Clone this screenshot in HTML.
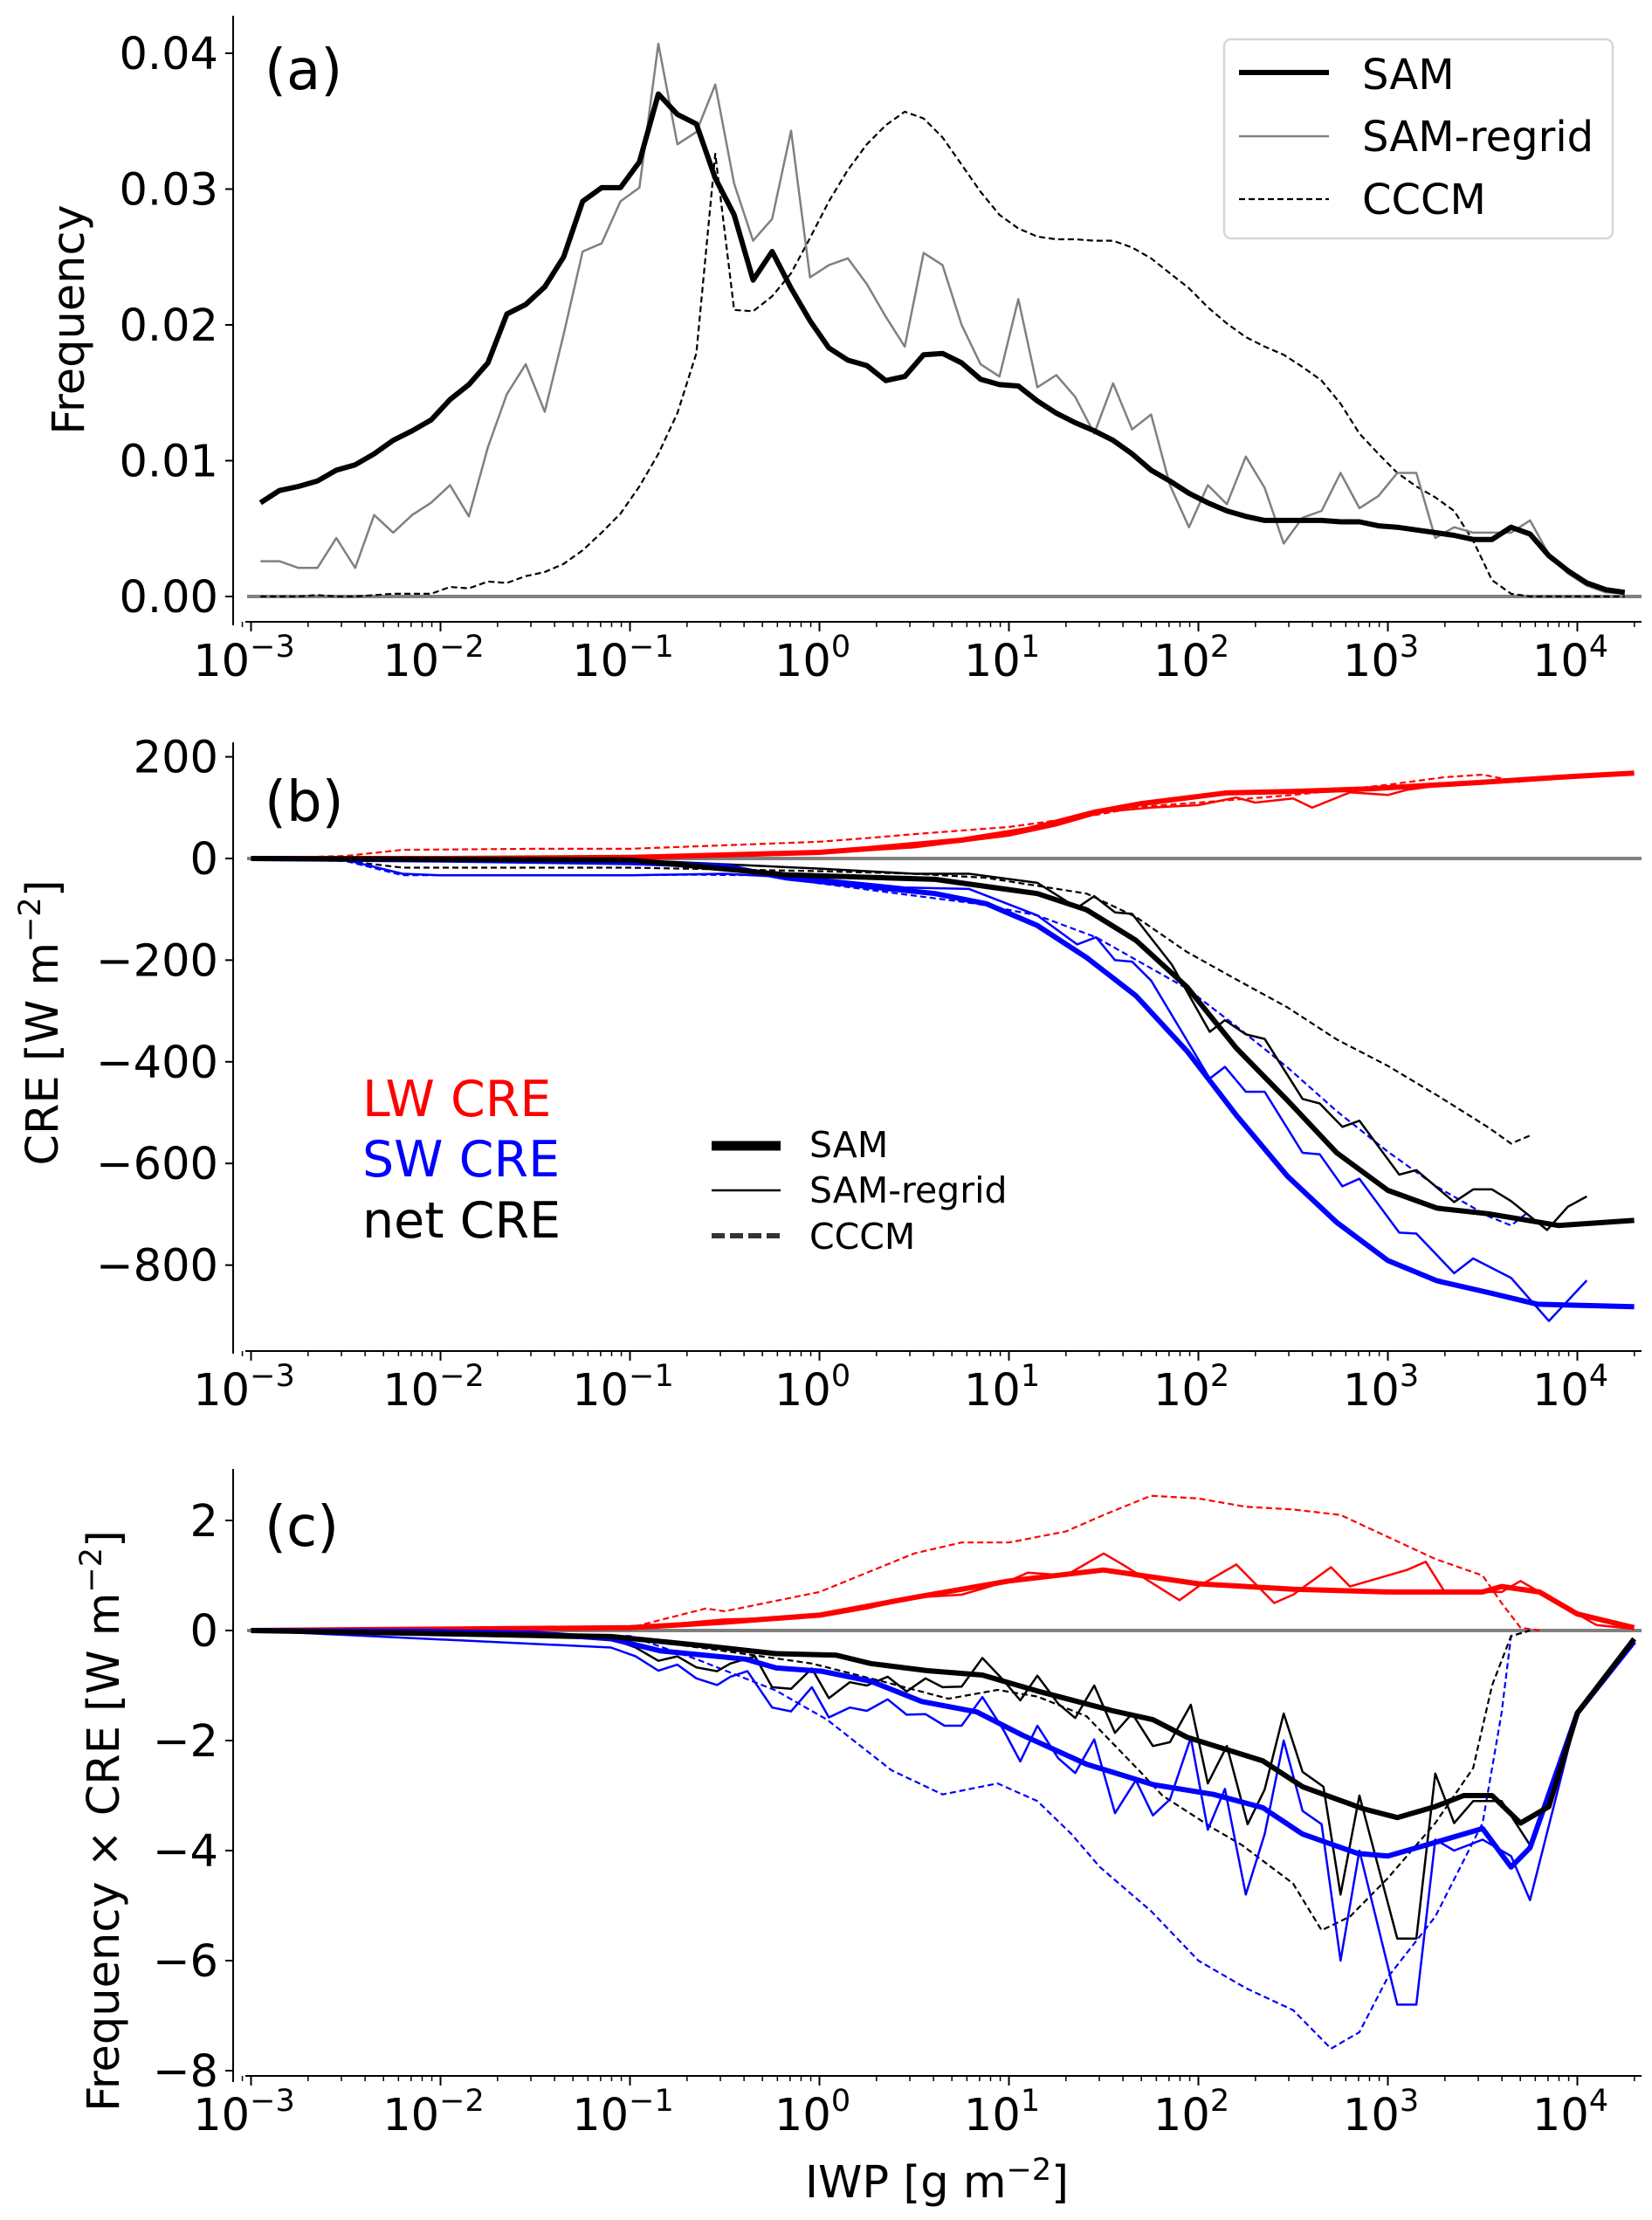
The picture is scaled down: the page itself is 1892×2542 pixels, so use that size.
<!DOCTYPE html>
<html><head><meta charset="utf-8"><style>
html,body{margin:0;padding:0;background:#fff;}
svg{display:block;font-family:"DejaVu Sans","Liberation Sans",sans-serif;}
</style></head>
<body>
<svg id="fig" width="1892" height="2542" viewBox="0 0 1892 2542" xmlns="http://www.w3.org/2000/svg">
<rect width="1892" height="2542" fill="#fff"/>
<g id="pa"></g>
<g id="pb"></g>
<g id="pc"></g>
</svg>
<script>
// ---------- data ----------
const binLog = [-2.95,-2.85,-2.75,-2.65,-2.55,-2.45,-2.35,-2.25,-2.15,-2.05,-1.95,-1.85,-1.75,-1.65,-1.55,-1.45,-1.35,-1.25,-1.15,-1.05,-0.95,-0.85,-0.75,-0.65,-0.55,-0.45,-0.35,-0.25,-0.15,-0.05,0.05,0.15,0.25,0.35,0.45,0.55,0.65,0.75,0.85,0.95,1.05,1.15,1.25,1.35,1.45,1.55,1.65,1.75,1.85,1.95,2.05,2.15,2.25,2.35,2.45,2.55,2.65,2.75,2.85,2.95,3.05,3.15,3.25,3.35,3.45,3.55,3.65,3.75,3.85,3.95,4.05,4.15,4.25];
const freqSAM = [0.0069,0.0078,0.0081,0.0085,0.0093,0.0097,0.0105,0.0115,0.0122,0.0130,0.0145,0.0156,0.0172,0.0208,0.0215,0.0228,0.0250,0.0291,0.0301,0.0301,0.0320,0.0370,0.0355,0.0348,0.0308,0.0281,0.0233,0.0254,0.0227,0.0203,0.0183,0.0174,0.0170,0.0159,0.0162,0.0178,0.0179,0.0172,0.0160,0.0156,0.0155,0.0144,0.0135,0.0128,0.0122,0.0115,0.0105,0.0093,0.0085,0.0076,0.0069,0.0063,0.0059,0.0056,0.0056,0.0056,0.0056,0.0055,0.0055,0.0052,0.0051,0.0049,0.0047,0.0045,0.0042,0.0042,0.0051,0.0046,0.0030,0.0019,0.0010,0.0005,0.0003];
const freqRegrid = [0.0026,0.0026,0.0021,0.0021,0.0043,0.0021,0.0060,0.0047,0.0060,0.0069,0.0082,0.0059,0.0110,0.0149,0.0171,0.0136,0.0193,0.0254,0.0260,0.0291,0.0301,0.0407,0.0333,0.0342,0.0377,0.0304,0.0262,0.0278,0.0343,0.0235,0.0244,0.0249,0.0230,0.0206,0.0184,0.0253,0.0244,0.0200,0.0171,0.0162,0.0219,0.0154,0.0163,0.0147,0.0120,0.0157,0.0123,0.0134,0.0082,0.0051,0.0082,0.0068,0.0103,0.0080,0.0039,0.0058,0.0063,0.0091,0.0065,0.0074,0.0091,0.0091,0.0043,0.0051,0.0047,0.0047,0.0047,0.0056,0.0031,0.0017,0.0008,0.0003,0.0002];
const freqCCCM = [0,0,0,0.0001,0,0,0.0001,0.0002,0.0002,0.0002,0.0007,0.0006,0.0011,0.0010,0.0015,0.0018,0.0024,0.0034,0.0047,0.0061,0.0081,0.0105,0.0135,0.0179,0.0326,0.0211,0.0210,0.0221,0.0238,0.0264,0.0291,0.0314,0.0333,0.0347,0.0357,0.0352,0.0338,0.0318,0.0298,0.0281,0.0271,0.0265,0.0263,0.0263,0.0262,0.0262,0.0257,0.0249,0.0238,0.0227,0.0213,0.0201,0.0191,0.0184,0.0178,0.0169,0.0159,0.0142,0.0120,0.0105,0.0091,0.0081,0.0073,0.0063,0.0041,0.0012,0.0002,0,0,0,0,0,0];

// panel b: CRE [W m-2]
const lwSamX = [-3,-2,-1,-0.7,0,0.25,0.75,1.1,1.45,1.7,2.15,2.5,2.9,3.5,4,4.3];
const lwSamY = [0,0,2,5,12,19,36,57,91,108,129,132,137,150,162,168];
const lwRegX = [-3,-2,-1,0,0.5,1,1.25,1.5,1.75,2,2.2,2.3,2.5,2.6,2.8,3,3.1,3.3,3.5,3.7,3.9,4.1];
const lwRegY = [0,0,2,10,22,45,65,92,100,105,120,110,118,100,130,125,135,145,150,155,160,165];
const lwCcX = [-3,-2.5,-2.2,-1.5,-1,-0.5,0,0.25,0.5,1,1.45,1.7,2,2.5,3,3.3,3.5,3.7];
const lwCcY = [0,5,17,19,19,26,33,40,48,62,85,102,110,125,145,160,165,150];
const swSamX = [-3,-2,-1,-0.5,-0.18,0.61,0.88,1.15,1.41,1.67,1.94,2.2,2.47,2.73,3.0,3.26,3.53,3.79,4.3];
const swSamY = [0,-3,-8,-15,-38,-69,-89,-132,-195,-270,-379,-505,-625,-716,-791,-831,-854,-877,-882];
const swRegX = [-3,-2.5,-2.2,-2,-1,-0.5,0,0.45,0.79,1.15,1.36,1.46,1.56,1.65,1.75,1.94,2.06,2.14,2.25,2.35,2.55,2.64,2.76,2.85,3.06,3.15,3.35,3.45,3.65,3.85,4.05];
const swRegY = [0,-3,-30,-33,-33,-30,-40,-57,-60,-112,-169,-155,-200,-203,-240,-358,-433,-410,-459,-459,-579,-582,-645,-630,-736,-738,-816,-787,-825,-910,-830];
const swCcX = [-3,-2.5,-2.2,-1,-0.7,-0.3,0,0.83,1.15,1.46,1.94,2.2,2.47,2.73,3.0,3.26,3.53,3.65,3.74];
const swCcY = [0,-5,-33,-33,-32,-33,-49,-89,-112,-155,-256,-330,-411,-497,-577,-646,-704,-722,-696];
const netSamX = [-3,-1,-0.18,0.61,1.15,1.41,1.67,1.94,2.2,2.47,2.73,3.0,3.26,3.53,3.9,4.3];
const netSamY = [0,-3,-32,-41,-69,-101,-161,-253,-373,-476,-579,-653,-688,-699,-722,-712];
const netRegX = [-3,-1,0,0.5,0.79,1.15,1.36,1.45,1.56,1.65,1.86,2.06,2.14,2.25,2.35,2.55,2.64,2.76,2.85,3.06,3.15,3.35,3.45,3.55,3.65,3.84,3.95,4.05];
const netRegY = [0,-3,-20,-30,-30,-48,-97,-74,-106,-109,-209,-341,-318,-346,-355,-473,-482,-528,-516,-622,-613,-676,-651,-651,-674,-731,-685,-665];
const netCcX = [-3,-2.5,-2.2,-1,0,0.5,0.88,1.41,1.67,1.94,2.2,2.47,2.73,3.0,3.26,3.53,3.65,3.75];
const netCcY = [0,-5,-18,-18,-25,-30,-38,-69,-115,-184,-238,-293,-356,-408,-466,-529,-561,-545];

// panel c: Frequency x CRE
const cLwSamX = [-3,-1,-0.5,0,0.5,1,1.5,2,2.5,3,3.5,3.6,3.8,4,4.3];
const cLwSamY = [0,0.05,0.15,0.28,0.6,0.9,1.1,0.85,0.75,0.7,0.7,0.8,0.7,0.3,0.05];
const cLwRegX = [-3,-1,-0.5,0,0.25,0.5,0.75,1,1.1,1.3,1.5,1.6,1.9,2,2.2,2.4,2.5,2.7,2.8,3.1,3.2,3.3,3.6,3.7,3.9,4.1,4.3];
const cLwRegY = [0,0.05,0.2,0.25,0.4,0.6,0.65,0.9,1.05,1.0,1.4,1.2,0.55,0.8,1.2,0.5,0.65,1.15,0.8,1.1,1.25,0.7,0.7,0.9,0.5,0.1,0.03];
const cLwCcX = [-3,-1,-0.6,-0.5,0,0.5,0.75,1,1.3,1.5,1.75,2,2.25,2.5,2.75,3,3.25,3.5,3.6,3.7,3.8];
const cLwCcY = [0,0.05,0.4,0.35,0.7,1.4,1.6,1.6,1.8,2.1,2.45,2.4,2.25,2.2,2.1,1.7,1.3,1.0,0.5,0.05,0];
const cSwSamX = [-3,-2,-1.5,-1.1,-0.84,-0.39,-0.23,0.01,0.27,0.54,0.83,1.07,1.41,1.76,2.08,2.34,2.55,2.84,3.0,3.25,3.5,3.65,3.75,4,4.3];
const cSwSamY = [0,-0.02,-0.05,-0.15,-0.37,-0.52,-0.68,-0.74,-0.92,-1.29,-1.48,-1.9,-2.43,-2.8,-2.98,-3.22,-3.7,-4.05,-4.1,-3.85,-3.6,-4.3,-3.95,-1.5,-0.2];
const cSwRegX = [-3,-1.1,-0.97,-0.85,-0.75,-0.65,-0.54,-0.47,-0.38,-0.25,-0.15,-0.04,0.05,0.16,0.25,0.36,0.46,0.56,0.66,0.75,0.86,0.97,1.06,1.15,1.26,1.35,1.45,1.56,1.67,1.76,1.85,1.96,2.05,2.14,2.25,2.35,2.45,2.55,2.65,2.75,2.85,3.05,3.15,3.25,3.35,3.5,3.65,3.75,4,4.3];
const cSwRegY = [0,-0.31,-0.47,-0.73,-0.62,-0.87,-0.99,-0.84,-0.74,-1.4,-1.47,-1.03,-1.58,-1.4,-1.46,-1.25,-1.53,-1.52,-1.73,-1.73,-1.21,-1.8,-2.38,-1.73,-2.32,-2.59,-1.98,-3.32,-2.72,-3.36,-3.07,-1.95,-3.62,-2.88,-4.8,-3.7,-2.0,-3.28,-3.52,-6.0,-4.0,-6.8,-6.8,-3.8,-4.0,-3.8,-4.1,-4.9,-1.5,-0.2];
const cSwCcX = [-3,-1,-0.65,-0.23,0.04,0.38,0.65,0.94,1.15,1.33,1.48,1.75,2,2.25,2.5,2.7,2.85,3,3.25,3.5,3.6,3.65,3.75];
const cSwCcY = [0,-0.1,-0.52,-1.09,-1.62,-2.54,-2.98,-2.78,-3.1,-3.7,-4.3,-5.1,-6.0,-6.5,-6.9,-7.6,-7.3,-6.3,-5.2,-3.5,-1.5,-0.1,0];
const cNetSamX = [-3,-1.1,-0.57,-0.23,0.09,0.27,0.57,0.86,1.15,1.55,1.76,1.94,2.34,2.55,2.87,3.05,3.25,3.4,3.55,3.7,3.85,4,4.3];
const cNetSamY = [0,-0.11,-0.29,-0.42,-0.45,-0.6,-0.73,-0.81,-1.1,-1.46,-1.62,-1.94,-2.37,-2.84,-3.24,-3.4,-3.2,-3.0,-3.0,-3.5,-3.2,-1.5,-0.15];
const cNetRegX = [-3,-1.1,-0.97,-0.85,-0.75,-0.65,-0.54,-0.47,-0.34,-0.25,-0.15,-0.04,0.05,0.16,0.25,0.36,0.46,0.56,0.65,0.75,0.86,0.97,1.06,1.15,1.26,1.35,1.45,1.56,1.65,1.76,1.85,1.96,2.05,2.15,2.26,2.35,2.45,2.55,2.66,2.75,2.85,3.05,3.15,3.25,3.35,3.45,3.6,3.75,4,4.3];
const cNetRegY = [0,-0.15,-0.31,-0.55,-0.47,-0.67,-0.74,-0.6,-0.47,-1.03,-1.06,-0.69,-1.23,-0.94,-1.0,-0.84,-1.11,-0.87,-1.03,-1.02,-0.5,-0.9,-1.27,-0.82,-1.33,-1.59,-1.0,-1.86,-1.51,-2.1,-2.03,-1.35,-2.78,-2.1,-3.52,-2.89,-1.51,-2.57,-2.84,-4.8,-3.0,-5.6,-5.6,-2.6,-3.5,-3.1,-3.1,-3.9,-1.5,-0.2];
const cNetCcX = [-3,-1.1,-0.57,-0.04,0.36,0.68,0.94,1.15,1.41,1.68,1.81,2.08,2.23,2.5,2.65,2.8,3,3.25,3.45,3.55,3.65,3.75];
const cNetCcY = [0,-0.1,-0.34,-0.6,-0.95,-1.24,-1.08,-1.2,-1.56,-2.52,-3.0,-3.6,-3.9,-4.6,-5.45,-5.2,-4.5,-3.5,-2.5,-1.0,-0.1,0];

const decades = [-3,-2,-1,0,1,2,3,4];
const ticksA = [0,0.01,0.02,0.03,0.04];
const tickLabA = ["0.00","0.01","0.02","0.03","0.04"];
const ticksB = [200,0,-200,-400,-600,-800];
const tickLabB = ["200","0","\u2212200","\u2212400","\u2212600","\u2212800"];
const ticksC = [2,0,-2,-4,-6,-8];
const tickLabC = ["2","0","\u22122","\u22124","\u22126","\u22128"];

// ---------- drawing ----------
const NS = "http://www.w3.org/2000/svg";
const X = l => 287.5 + (l + 3) * 217;
const Ya = v => 683 - v * 15550;
const Yb = v => 983 - v * 0.582;
const Yc = v => 1867 - v * 63;
function mk(tag, attrs, parent){const e=document.createElementNS(NS,tag);for(const k in attrs)e.setAttribute(k,attrs[k]);parent.appendChild(e);return e;}

function line(g, xs, ys, Y, color, w, dash, name){
  const pts = xs.map((x,i)=>X(x).toFixed(1)+","+Y(ys[i]).toFixed(1)).join(" ");
  const p = mk("polyline",{points:pts,fill:"none",stroke:color,"stroke-width":w,"stroke-linejoin":"round","stroke-linecap":"butt"},g);
  if(dash) p.setAttribute("stroke-dasharray",dash);
  
  
}

function axes(g, spineTop, spineBot, xSpineY, Y, ticks, labs, zeroY){
  const ls = mk("line",{x1:267,y1:spineTop,x2:267,y2:spineBot,stroke:"#000","stroke-width":2},g);
  
  
  const xs = mk("line",{x1:281,y1:xSpineY,x2:1880,y2:xSpineY,stroke:"#000","stroke-width":2},g);
  
  
  const zl = mk("line",{x1:283,y1:zeroY,x2:1880,y2:zeroY,stroke:"#808080","stroke-width":4},g);
  
  
  ticks.forEach((t,i)=>{
    const y = Y(t);
    mk("line",{x1:258,y1:y,x2:267,y2:y,stroke:"#000","stroke-width":2},g);
    const tx = mk("text",{x:250,y:y+18,"text-anchor":"end","font-size":51},g);
    tx.textContent = labs[i];
    
    
  });
  for(let d=-4; d<=4; d++){
    for(let m=1;m<=9;m++){
      const l = d + Math.log10(m);
      if(l < -3.05 || l > 4.32) continue;
      const x = X(l);
      mk("line",{x1:x,y1:xSpineY,x2:x,y2:xSpineY+(m===1?11:6),stroke:"#000","stroke-width":m===1?2:1.5},g);
    }
  }
  decades.forEach(d=>{
    const x = X(d);
    const t = mk("text",{x:x-8,y:xSpineY+62,"text-anchor":"middle","font-size":51},g);
    
    
    const a = mk("tspan",{},t); a.textContent="10";
    const b = mk("tspan",{dy:-22,"font-size":35}, t); b.textContent = d<0 ? "\u2212"+(-d) : String(d);
  });
}

function txt(g, x, y, s, size, color, name, anchor){
  const t = mk("text",{x:x,y:y,"font-size":size,fill:color||"#000","text-anchor":anchor||"start"},g);
  t.textContent = s;
  
  
  return t;
}

// Panel a
const ga = document.getElementById("pa");
axes(ga, 18, 716, 712, Ya, ticksA, tickLabA, Ya(0));
line(ga, binLog, freqCCCM, Ya, "#000", 2.2, "7,4", "cccm-frequency-line");
line(ga, binLog, freqRegrid, Ya, "#808080", 2.5, null, "sam-regrid-frequency-line");
line(ga, binLog, freqSAM, Ya, "#000", 6, null, "sam-frequency-line");
txt(ga, 303, 102, "(a)", 64, "#000", "panel-a-label");
const ya = txt(ga, 0, 0, "Frequency", 51, "#000", "y-axis-title-a", "middle");
ya.setAttribute("transform","translate(96,366) rotate(-90)");
const lga = mk("g",{},ga);


mk("rect",{x:1402,y:45,width:445,height:228,rx:8,fill:"#fff",stroke:"#d6d6d6","stroke-width":2.5},lga);
mk("line",{x1:1419,y1:83,x2:1522,y2:83,stroke:"#000","stroke-width":6},lga);
mk("line",{x1:1419,y1:156,x2:1522,y2:156,stroke:"#808080","stroke-width":2.5},lga);
mk("line",{x1:1419,y1:228,x2:1522,y2:228,stroke:"#000","stroke-width":2.2,"stroke-dasharray":"7,4"},lga);
txt(lga, 1560, 102, "SAM", 48, "#000", "legend-entry-sam");
txt(lga, 1560, 173, "SAM-regrid", 48, "#000", "legend-entry-sam-regrid");
txt(lga, 1560, 245, "CCCM", 48, "#000", "legend-entry-cccm");

// Panel b
const gb = document.getElementById("pb");
axes(gb, 850, 1550, 1547, Yb, ticksB, tickLabB, Yb(0));
line(gb, lwCcX, lwCcY, Yb, "#ff0000", 2.2, "7,4", "lw-cccm-line");
line(gb, swCcX, swCcY, Yb, "#0000ff", 2.2, "7,4", "sw-cccm-line");
line(gb, netCcX, netCcY, Yb, "#000", 2.2, "7,4", "net-cccm-line");
line(gb, lwRegX, lwRegY, Yb, "#ff0000", 2.5, null, "lw-regrid-line");
line(gb, swRegX, swRegY, Yb, "#0000ff", 2.5, null, "sw-regrid-line");
line(gb, netRegX, netRegY, Yb, "#000", 2.5, null, "net-regrid-line");
line(gb, lwSamX, lwSamY, Yb, "#ff0000", 6, null, "lw-sam-line");
line(gb, swSamX, swSamY, Yb, "#0000ff", 6, null, "sw-sam-line");
line(gb, netSamX, netSamY, Yb, "#000", 6, null, "net-sam-line");
txt(gb, 303, 940, "(b)", 64, "#000", "panel-b-label");
const yb = txt(gb, 0, 0, "CRE [W m", 51, "#000", "y-axis-title-b", "middle");
mk("tspan",{dy:-20,"font-size":35},yb).textContent="\u22122";
mk("tspan",{dy:20},yb).textContent="]";
yb.setAttribute("transform","translate(66,1171) rotate(-90)");
txt(gb, 415, 1278, "LW CRE", 57, "#ff0000", "lw-cre-label");
txt(gb, 415, 1347, "SW CRE", 57, "#0000ff", "sw-cre-label");
txt(gb, 415, 1417, "net CRE", 57, "#000", "net-cre-label");
const lgb = mk("g",{},gb);


mk("line",{x1:815,y1:1312,x2:894,y2:1312,stroke:"#000","stroke-width":11},lgb);
mk("line",{x1:815,y1:1363,x2:894,y2:1363,stroke:"#000","stroke-width":2.5},lgb);
mk("line",{x1:815,y1:1415,x2:894,y2:1415,stroke:"#333","stroke-width":6,"stroke-dasharray":"15,6"},lgb);
txt(lgb, 927, 1325, "SAM", 41, "#000", "legend-entry-sam");
txt(lgb, 927, 1377, "SAM-regrid", 41, "#000", "legend-entry-sam-regrid");
txt(lgb, 927, 1430, "CCCM", 41, "#000", "legend-entry-cccm");

// Panel c
const gc = document.getElementById("pc");
axes(gc, 1682, 2384, 2377, Yc, ticksC, tickLabC, Yc(0));
line(gc, cLwCcX, cLwCcY, Yc, "#ff0000", 2.2, "7,4", "c-lw-cccm-line");
line(gc, cSwCcX, cSwCcY, Yc, "#0000ff", 2.2, "7,4", "c-sw-cccm-line");
line(gc, cNetCcX, cNetCcY, Yc, "#000", 2.2, "7,4", "c-net-cccm-line");
line(gc, cLwRegX, cLwRegY, Yc, "#ff0000", 2.5, null, "c-lw-regrid-line");
line(gc, cSwRegX, cSwRegY, Yc, "#0000ff", 2.5, null, "c-sw-regrid-line");
line(gc, cNetRegX, cNetRegY, Yc, "#000", 2.5, null, "c-net-regrid-line");
line(gc, cLwSamX, cLwSamY, Yc, "#ff0000", 6, null, "c-lw-sam-line");
line(gc, cSwSamX, cSwSamY, Yc, "#0000ff", 6, null, "c-sw-sam-line");
line(gc, cNetSamX, cNetSamY, Yc, "#000", 6, null, "c-net-sam-line");
txt(gc, 303, 1770, "(c)", 64, "#000", "panel-c-label");
const yc = txt(gc, 0, 0, "Frequency \u00d7 CRE [W m", 51, "#000", "y-axis-title-c", "middle");
mk("tspan",{dy:-20,"font-size":35},yc).textContent="\u22122";
mk("tspan",{dy:20},yc).textContent="]";
yc.setAttribute("transform","translate(136,2085) rotate(-90)");
const xl = txt(gc, 1073, 2516, "IWP [g m", 51, "#000", "x-axis-title", "middle");
mk("tspan",{dy:-20,"font-size":35},xl).textContent="\u22122";
mk("tspan",{dy:20},xl).textContent="]";
</script>
</body></html>
